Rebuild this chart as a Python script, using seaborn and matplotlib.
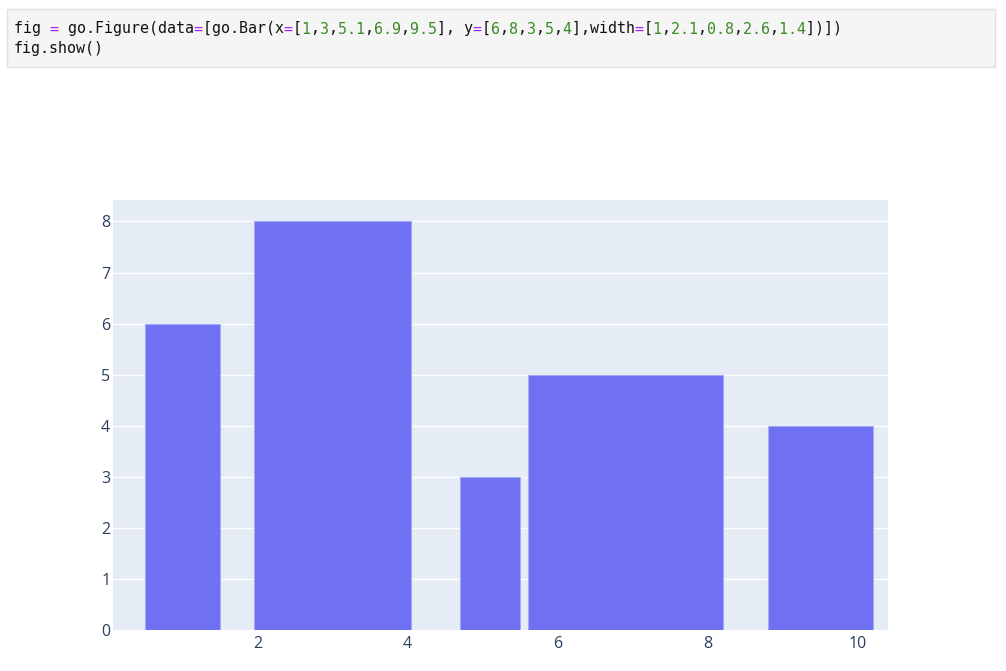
import re
import matplotlib
matplotlib.use('Agg')
import matplotlib.pyplot as plt
from matplotlib.patches import Rectangle
import seaborn as sns

# bar data (centres, heights, widths)
bar_x = [1, 3, 5.1, 6.9, 9.5]
bar_y = [6, 8, 3, 5, 4]
bar_w = [1, 2.1, 0.8, 2.6, 1.4]
x_ticks = [2, 4, 6, 8, 10]
y_ticks = [0, 1, 2, 3, 4, 5, 6, 7, 8]

code_lines = [
    'fig = go.Figure(data=[go.Bar(x=[1,3,5.1,6.9,9.5], y=[6,8,3,5,4],width=[1,2.1,0.8,2.6,1.4])])',
    'fig.show()',
]

sns.set_theme(style='darkgrid', rc={
    'axes.facecolor': '#E5ECF6',
    'grid.color': 'white',
    'grid.linewidth': 1.0,
    'axes.edgecolor': '#E5ECF6',
})
plt.rcParams['font.family'] = ['Open Sans', 'DejaVu Sans']

W, H = 1006, 671
fig = plt.figure(figsize=(W / 100, H / 100), dpi=100)
fig.patch.set_facecolor('white')

# code cell box
fig.patches.append(Rectangle((7 / W, 1 - 67 / H), 988 / W, 58 / H,
                             transform=fig.transFigure, facecolor='#f5f5f5',
                             edgecolor='#e0e0e0', linewidth=1))


def mask(s, keep):
    return ''.join(c if keep[i] else ' ' for i, c in enumerate(s))


mono = dict(family='DejaVu Sans Mono', fontsize=10.8, va='center', ha='left')
for li, line in enumerate(code_lines):
    green = [False] * len(line)
    purple = [c == '=' for c in line]
    for m in re.finditer(r'(?<![A-Za-z_])\d+(\.\d+)?', line):
        for i in range(m.start(), m.end()):
            green[i] = True
    black = [not (g or p) for g, p in zip(green, purple)]
    y = 1 - (29 + li * 19) / H
    fig.text(14 / W, y, mask(line, black), color='#111111', **mono)
    fig.text(14 / W, y, mask(line, green), color='#3a8a26', **mono)
    fig.text(14 / W, y, mask(line, purple), color='#aa22ff', **mono)

ax = fig.add_axes([113 / W, 1 - 630 / H, 775 / W, 430 / H])
ax.bar(bar_x, bar_y, width=bar_w, color='#6f71f2', edgecolor='#a5aaf6',
       linewidth=0.8, zorder=3)
ax.set_xlim(0.074, 10.4)
ax.set_ylim(0, 8.42)
ax.set_xticks(x_ticks)
ax.set_yticks(y_ticks)
ax.grid(axis='x', visible=False)
ax.grid(axis='y', color='white', linewidth=1)
ax.tick_params(axis='both', colors='#2a3f5f', labelsize=11.5, length=0)
ax.tick_params(axis='y', pad=2)
ax.tick_params(axis='x', pad=4)
for s in ax.spines.values():
    s.set_visible(False)

fig.savefig('out.png', dpi=100)
